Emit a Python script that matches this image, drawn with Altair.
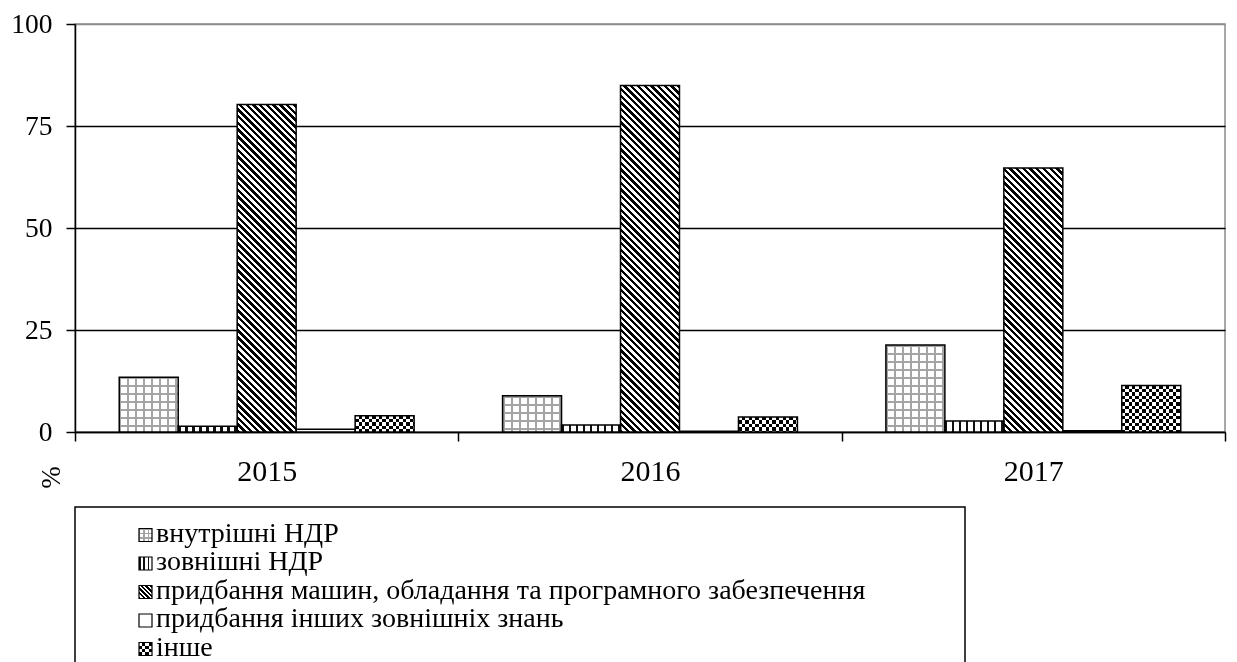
import altair as alt
import pandas as pd

# ---------------- data ----------------
years = ["2015", "2016", "2017"]
categories = [
    "внутрішні НДР",
    "зовнішні НДР",
    "придбання машин, обладання та програмного забезпечення",
    "придбання інших зовнішніх знань",
    "інше",
]
v_internal = [13.4, 8.9, 21.3]
v_external = [1.4, 1.7, 2.7]
v_machines = [80.3, 84.9, 64.7]
v_knowledge = [0.7, 0.2, 0.3]
v_other = [4.0, 3.7, 11.4]
y_ticks = [0, 25, 50, 75, 100]

series = [v_internal, v_external, v_machines, v_knowledge, v_other]
rows = []
for cat, vals in zip(categories, series):
    for yr, v in zip(years, vals):
        rows.append({"year": yr, "cat": cat, "value": v})
df = pd.DataFrame(rows)

# ---------------- styling helpers ----------------
FONT = "Liberation Serif"
FS_Y = 27.5
FS_X = 30
FS_LEG = 28
PLOT_W, PLOT_H = 1150, 408
Y_MAX = 100
PX = PLOT_H / Y_MAX
OUTER = 0.75
BAR_W = PLOT_W / len(years) / (len(categories) + 2 * OUTER)
CLEAR = "rgba(255,255,255,0)"
GRIDGRAY = "#a4a4a4"


def stripes(length, period, on, col_on, col_off):
    stops = []
    pos = 0.0
    length = max(length, 0.5)
    while pos < length - 1e-9:
        a = min(pos / length, 1)
        b = min((pos + on) / length, 1)
        c = min((pos + period) / length, 1)
        stops += [
            {"offset": round(a, 5), "color": col_on},
            {"offset": round(b, 5), "color": col_on},
            {"offset": round(b, 5), "color": col_off},
            {"offset": round(c, 5), "color": col_off},
        ]
        pos += period
    return stops


def lin(x1, y1, x2, y2, stops):
    return {"gradient": "linear", "x1": x1, "y1": y1, "x2": x2, "y2": y2, "stops": stops}


def horiz(w, period, on, c1, c2):
    return lin(0, 0, 1, 0, stripes(w, period, on, c1, c2))


def vert(h, period, on, c1, c2):
    return lin(0, 0, 0, 1, stripes(h, period, on, c1, c2))


def diag(w, h, period, on, c1, c2):
    d = w * w + h * h
    k = (w + h) / d
    return lin(0, 1, round(w * k, 5), round(1 - h * k, 5), stripes(w + h, period, on, c1, c2))


# ---------------- main chart ----------------
x_enc = alt.X(
    "year:N",
    sort=years,
    scale=alt.Scale(paddingInner=0, paddingOuter=0),
    axis=alt.Axis(
        title=None, labelAngle=0, tickBand="extent", tickSize=9, labelPadding=15,
        labelFont=FONT, labelFontSize=FS_X, labelColor="black",
        domainColor="black", tickColor="black", domainWidth=1.5, tickWidth=1.5, grid=False,
    ),
)
xo_enc = alt.XOffset(
    "cat:N", sort=categories,
    scale=alt.Scale(domain=categories, paddingOuter=OUTER, paddingInner=0),
)
y_enc = alt.Y(
    "value:Q",
    scale=alt.Scale(domain=[0, Y_MAX], nice=False),
    axis=alt.Axis(
        values=y_ticks, title="%", titleAngle=270, titleX=-24, titleY=453,
        titleAlign="center", titleBaseline="middle", titleFont=FONT, titleFontSize=27,
        titleFontWeight="normal", titleColor="black",
        labelFont=FONT, labelFontSize=FS_Y, labelColor="black", labelPadding=14,
        tickSize=9, tickColor="black", tickWidth=1.5, domainColor="black", domainWidth=1.5,
        grid=True, gridWidth=1.5,
        gridColor={"condition": {"test": "datum.value === 100", "value": "#8c8c8c"}, "value": "black"},
    ),
)

base = alt.Chart(df).encode(x=x_enc, xOffset=xo_enc, y=y_enc)


def pick(cat, yr=None):
    if yr is None:
        return base.transform_filter(alt.datum.cat == cat)
    return base.transform_filter((alt.datum.cat == cat) & (alt.datum.year == yr))


layers = []
c_int, c_ext, c_mach, c_know, c_oth = categories

# internal R&D: light grey grid
layers.append(pick(c_int).mark_bar(fill=horiz(BAR_W, 8, 2, GRIDGRAY, "white")))
for yr, v in zip(years, v_internal):
    layers.append(pick(c_int, yr).mark_bar(fill=vert(v * PX, 8, 2, GRIDGRAY, CLEAR)))

# external R&D: vertical lines
layers.append(pick(c_ext).mark_bar(fill=horiz(BAR_W, 7, 2.5, "#111111", "white")))

# machines: diagonal stripes
for yr, v in zip(years, v_machines):
    layers.append(pick(c_mach, yr).mark_bar(fill=diag(BAR_W, v * PX, 6.7, 3.35, "black", "white")))

# other knowledge: white
layers.append(pick(c_know).mark_bar(fill="white"))

# other: checkerboard
layers.append(pick(c_oth).mark_bar(fill=horiz(BAR_W, 6.8, 3.4, "black", "white")))
for yr, v in zip(years, v_other):
    layers.append(pick(c_oth, yr).mark_bar(fill=vert(v * PX, 6.8, 3.4, "white", "black"), blend="difference"))

# outlines
layers.append(base.mark_bar(fillOpacity=0, stroke="black", strokeWidth=1.5))

top = alt.layer(*layers).properties(
    width=PLOT_W, height=PLOT_H,
    view=alt.ViewBackground(stroke="#8c8c8c", strokeWidth=1.5),
)

# ---------------- legend panel ----------------
leg_df = pd.DataFrame({"label": categories})
leg_y = alt.Y("label:N", sort=categories,
              scale=alt.Scale(domain=categories, range=[28, 142], padding=0), axis=None)
leg_base = alt.Chart(leg_df).encode(y=leg_y, x=alt.value(70.5))
SW = 13


def lpick(cat):
    return leg_base.transform_filter(alt.datum.label == cat)


sq = dict(shape="square", size=SW * SW, opacity=1, strokeWidth=0, filled=True)
leg_layers = [
    lpick(c_int).mark_point(fill=horiz(SW, 4.33, 1.4, GRIDGRAY, "white"), **sq),
    lpick(c_int).mark_point(fill=vert(SW, 4.33, 1.4, GRIDGRAY, CLEAR), **sq),
    lpick(c_ext).mark_point(fill=horiz(SW, 4.33, 1.6, "#111111", "white"), **sq),
    lpick(c_mach).mark_point(fill=diag(SW, SW, 4.6, 2.3, "black", "white"), **sq),
    lpick(c_know).mark_point(fill="white", **sq),
    lpick(c_oth).mark_point(fill=horiz(SW, 6.5, 3.25, "black", "white"), **sq),
    lpick(c_oth).mark_point(fill=vert(SW, 6.5, 3.25, "white", "black"), blend="difference", **sq),
    leg_base.mark_point(shape="square", size=SW * SW, opacity=1, filled=False,
                        stroke="black", strokeWidth=1.2),
    alt.Chart(leg_df).mark_text(
        align="left", baseline="alphabetic", dy=6.5, font=FONT, fontSize=FS_LEG, color="black"
    ).encode(y=leg_y, x=alt.value(81), text="label:N"),
]

legend = alt.layer(*leg_layers).properties(
    width=890, height=170,
    view=alt.ViewBackground(stroke="black", strokeWidth=1.5),
)

chart = (
    alt.vconcat(top, legend, spacing=17)
    .configure(font=FONT, padding={"left": 2, "top": 1, "right": 0, "bottom": 5}, background="white")
)

chart.save("out.html", embed_options={"renderer": "svg", "actions": False})
